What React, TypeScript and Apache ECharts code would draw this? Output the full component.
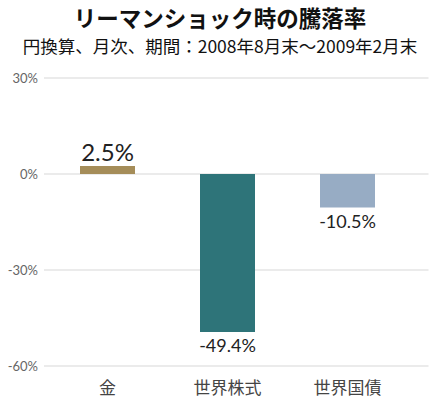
import React, { useEffect, useRef } from "react";
import * as echarts from "echarts";

const titleText = "リーマンショック時の騰落率";
const subtitleText = "円換算、月次、期間：2008年8月末～2009年2月末";
const categories = ["金", "世界株式", "世界国債"];
const values = [2.5, -49.4, -10.5];
const barColors = ["#A58D59", "#2E7479", "#97ACC4"];
const yMin = -60;
const yMax = 30;
const yStep = 30;

export default function App() {
  const ref = useRef<HTMLDivElement>(null);
  useEffect(() => {
    document.body.style.margin = "0";
    const chart = echarts.init(ref.current!, null, { renderer: "svg" });
    const numFont = "Lato, 'Noto Sans CJK JP', sans-serif";
    const jpFont = "'Noto Sans CJK JP', sans-serif";
    chart.setOption({
      animation: false,
      backgroundColor: "#ffffff",
      title: [
        {
          text: titleText,
          left: "center",
          top: 5.5,
          padding: 0,
          textStyle: { fontFamily: jpFont, fontSize: 22.5, lineHeight: 22, fontWeight: "bold", color: "#111" },
        },
        {
          text: subtitleText,
          left: "center",
          top: 36.5,
          padding: 0,
          textStyle: { fontFamily: jpFont, fontSize: 17.5, lineHeight: 17, fontWeight: "normal", color: "#111" },
        },
      ],
      grid: [
        { left: 44, right: 11.5, top: 78, bottom: 47 },
        { left: 47.5, right: 32.5, top: 78, bottom: 47 },
      ],
      xAxis: [
        { type: "category", gridIndex: 0, data: categories, show: false },
        {
          type: "category",
          gridIndex: 1,
          data: categories,
          axisLine: { show: false },
          axisTick: { show: false },
          axisLabel: { fontFamily: jpFont, fontSize: 17, color: "#444", margin: 12 },
        },
      ],
      yAxis: [
        {
          type: "value",
          gridIndex: 0,
          min: yMin,
          max: yMax,
          interval: yStep,
          axisLine: { show: false },
          axisTick: { show: false },
          axisLabel: {
            formatter: (v: number) => `${v}%`,
            fontFamily: numFont,
            fontSize: 13,
            color: "#666",
            margin: 6,
          },
          splitLine: { lineStyle: { color: "#ebebeb", width: 2 } },
        },
        {
          type: "value",
          gridIndex: 1,
          min: yMin,
          max: yMax,
          interval: yStep,
          show: false,
          splitLine: { show: false },
        },
      ],
      series: [
        {
          type: "bar",
          xAxisIndex: 1,
          yAxisIndex: 1,
          barWidth: 55,
          data: values.map((v, i) => ({
            value: v,
            itemStyle: { color: barColors[i] },
            label: {
              show: true,
              position: v >= 0 ? "top" : "bottom",
              distance: v >= 0 ? 3 : 4,
              fontFamily: numFont,
              fontSize: i === 0 ? 24 : 18,
              color: "#222",
              formatter: () => `${v.toFixed(1)}%`,
            },
          })),
        },
      ],
    });
    return () => chart.dispose();
  }, []);
  return <div ref={ref} style={{ width: 440, height: 413 }} />;
}
